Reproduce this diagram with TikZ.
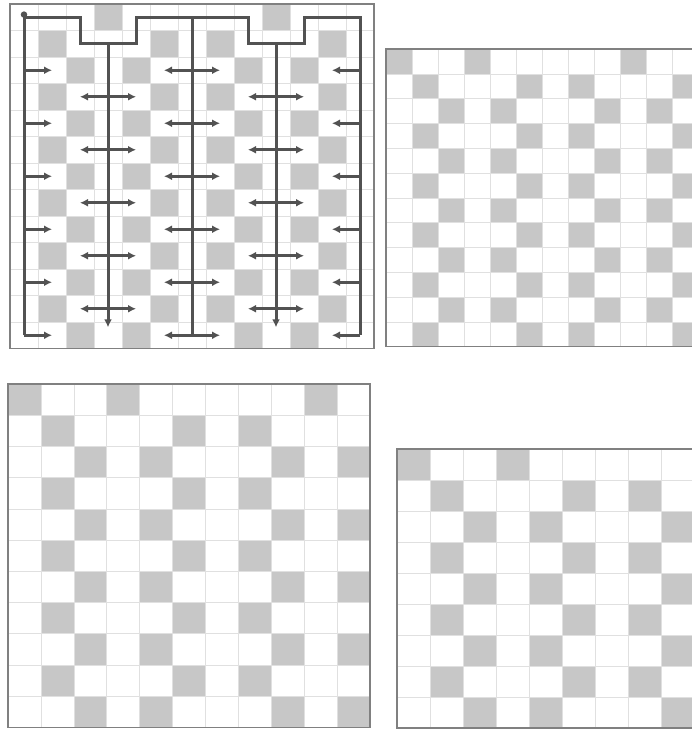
\documentclass[tikz,border=0pt]{standalone}
\usetikzlibrary{arrows.meta}
\tikzset{
  sqcell/.style={fill=black!22},
  cellline/.style={draw=black!12,line width=0.5pt},
  boardframe/.style={draw=black!50,line width=1.3pt},
  route/.style={draw=black!68,line width=3pt},
  flow/.style={route,-{Latex[length=8pt,width=8pt]}},
  twoflow/.style={route,{Latex[length=8pt,width=8pt]}-{Latex[length=8pt,width=8pt]}},
}
\newcommand{\board}[3]{%
  \fill[white] (0,0) rectangle (#1,#2);
  \foreach \c in {#3}{\ifnum\c<#1\relax\fill[sqcell] (\c,0) rectangle ++(1,1);\fi}
  \foreach \r in {1,...,#2}{%
    \ifnum\r<#2\relax
      \ifodd\r\relax\def\graycols{1,5,7,11}\else\def\graycols{2,4,8,10}\fi
      \foreach \c in \graycols{\ifnum\c<#1\relax\fill[sqcell] (\c,\r) rectangle ++(1,1);\fi}
    \fi}
  \foreach \c in {1,...,#1}{\draw[cellline] (\c,0) -- (\c,#2);}
  \foreach \r in {1,...,#2}{\draw[cellline] (0,\r) -- (#1,\r);}
  \draw[boardframe] (0,0) rectangle (#1,#2);
}
\begin{document}
\begin{tikzpicture}[x=1pt,y=-1pt]
  \useasboundingbox (0,0) rectangle (692,731);
  \clip (0,0) rectangle (692,731);
  \begin{scope}[shift={(10,4)},xscale=28,yscale=26.5]
    \board{13}{13}{3,9}
    \draw[route] (0.5,12.5) -- (0.5,0.5) -- (2.5,0.5) -- (2.5,1.5) -- (4.5,1.5) -- (4.5,0.5)
      -- (8.5,0.5) -- (8.5,1.5) -- (10.5,1.5) -- (10.5,0.5) -- (12.5,0.5) -- (12.5,12.5);
    \draw[route] (6.5,0.5) -- (6.5,12.5);
    \draw[flow] (3.5,1.5) -- (3.5,12.2);
    \draw[flow] (9.5,1.5) -- (9.5,12.2);
    \foreach \r in {2,4,...,12}{
      \draw[flow] (0.5,\r+0.5) -- (1.5,\r+0.5);
      \draw[flow] (6.5,\r+0.5) -- (5.5,\r+0.5);
      \draw[flow] (6.5,\r+0.5) -- (7.5,\r+0.5);
      \draw[flow] (12.5,\r+0.5) -- (11.5,\r+0.5);
    }
    \foreach \r in {3,5,...,11}{
      \draw[twoflow] (2.5,\r+0.5) -- (4.5,\r+0.5);
      \draw[twoflow] (8.5,\r+0.5) -- (10.5,\r+0.5);
    }
    \node[fill=black!68,circle,inner sep=2.3pt] (start) at (0.5,0.4) {};
  \end{scope}
  \begin{scope}[shift={(386,49)},xscale=26,yscale=24.8]
    \board{12}{12}{0,3,9}
  \end{scope}
  \begin{scope}[shift={(8,384)},xscale=32.9,yscale=31.2]
    \board{11}{11}{0,3,9}
  \end{scope}
  \begin{scope}[shift={(397,449)},xscale=33,yscale=31]
    \board{9}{9}{0,3}
  \end{scope}
\end{tikzpicture}
\end{document}
